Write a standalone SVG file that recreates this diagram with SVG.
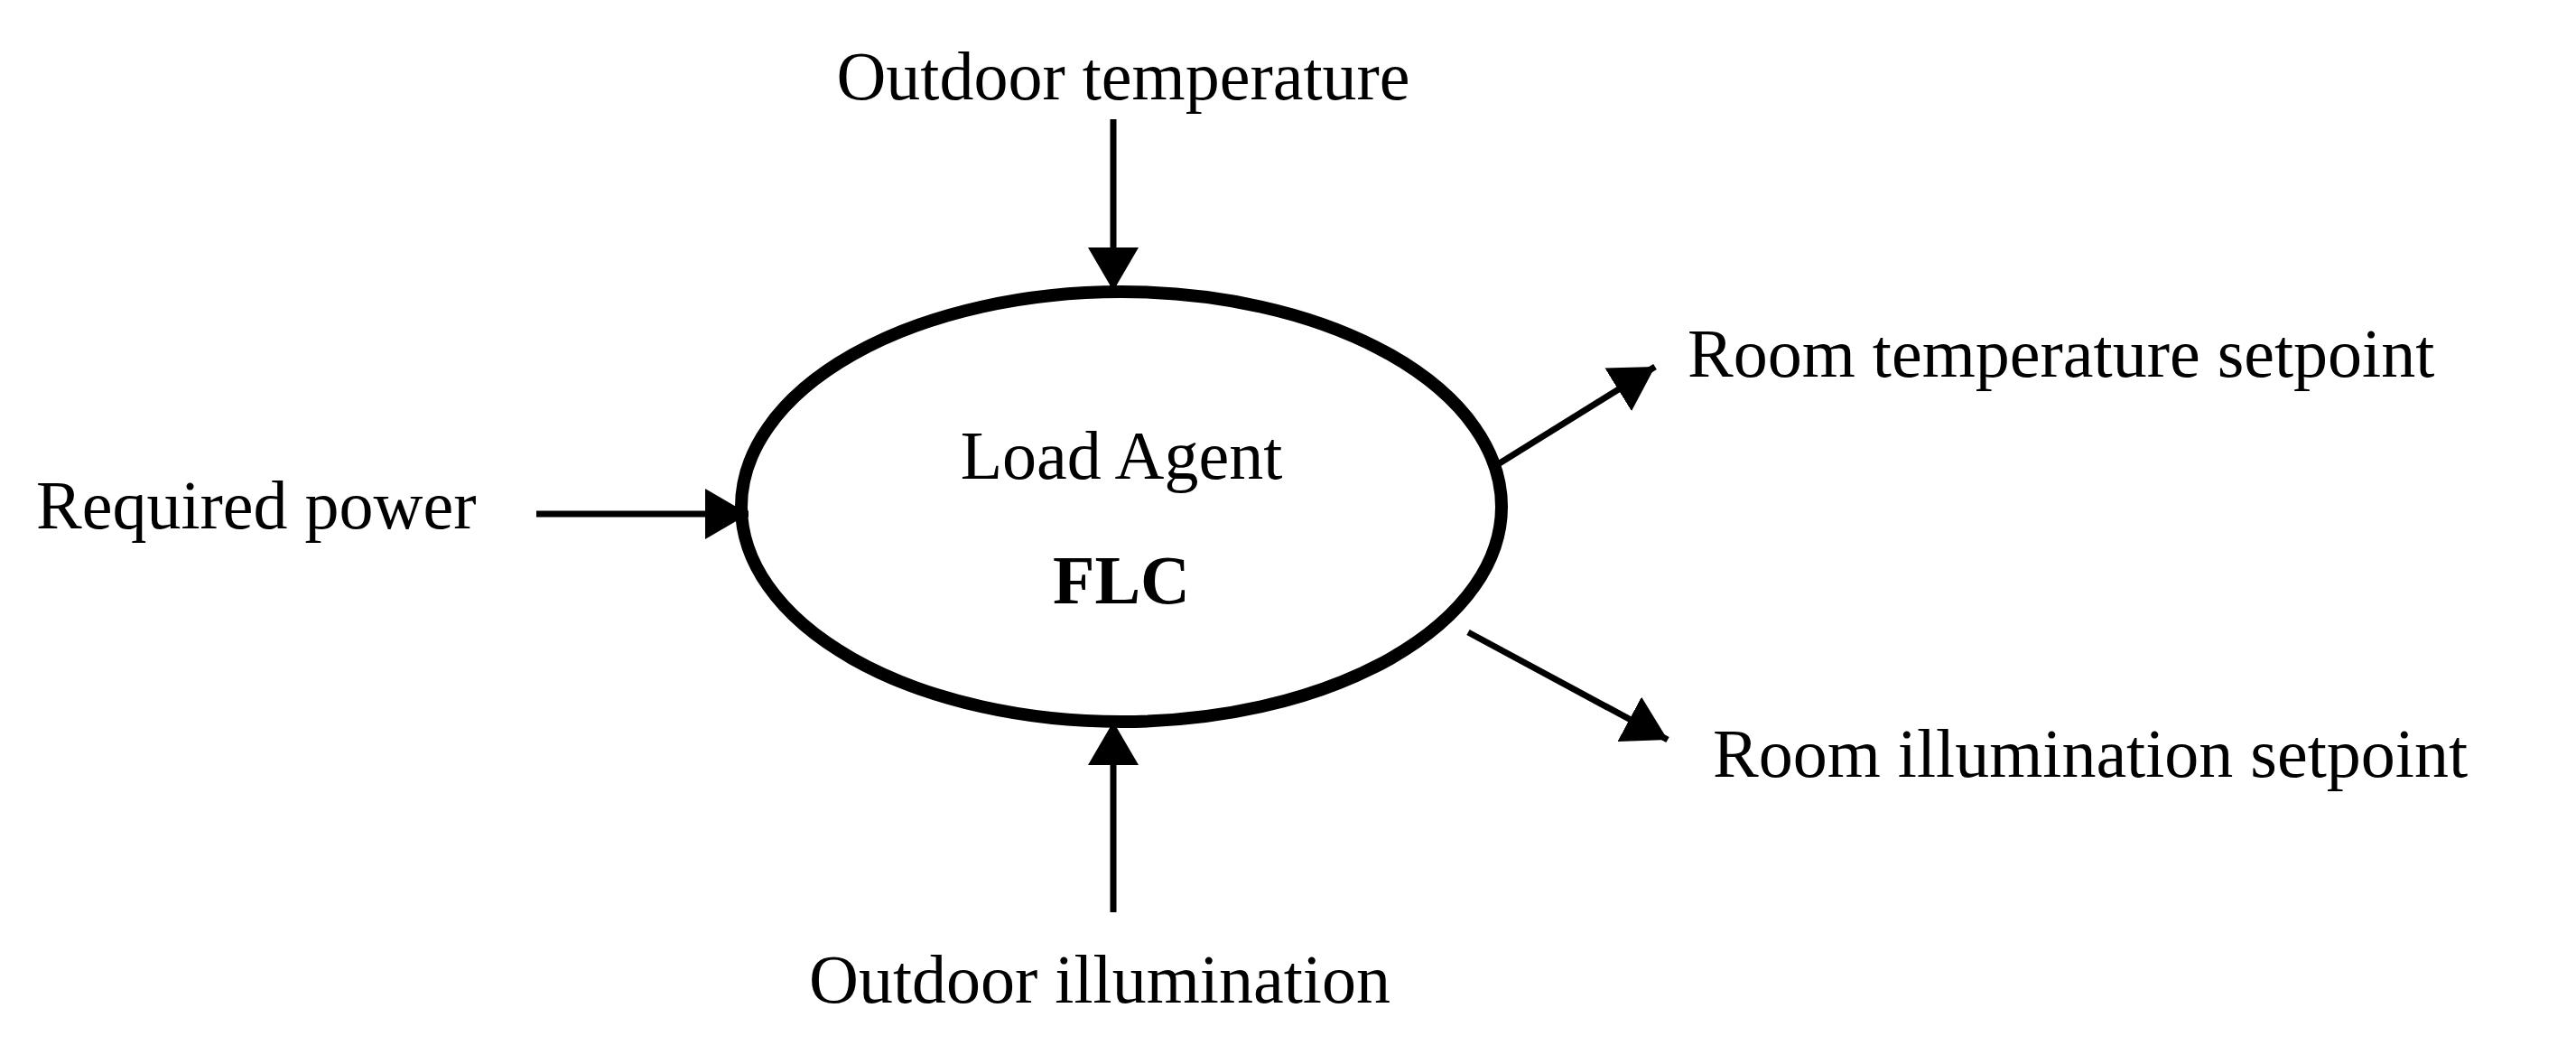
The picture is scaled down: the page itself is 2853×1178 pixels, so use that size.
<svg xmlns="http://www.w3.org/2000/svg" width="2853" height="1178" viewBox="0 0 2853 1178">
<style>
text{font-family:"Liberation Serif","Times New Roman",serif;font-size:76px;fill:#000}
.c{stroke:#000;stroke-width:7;fill:none}
</style>
<defs><marker id="a" markerUnits="userSpaceOnUse" markerWidth="50" markerHeight="56" refX="48" refY="28" orient="auto"><path d="M0,0 L48,28 L0,56 Z" fill="#000"/></marker></defs>
<rect width="2853" height="1178" fill="#fff"/>
<g id="agent">
<ellipse cx="1242" cy="561" rx="421" ry="238" fill="none" stroke="#000" stroke-width="14"/>
<text x="1242" y="530" text-anchor="middle">Load Agent</text>
<text x="1242" y="668" text-anchor="middle" font-weight="bold">FLC</text>
</g>
<g id="labels">
<text x="1244" y="110" text-anchor="middle">Outdoor temperature</text>
<text x="40" y="585">Required power</text>
<text x="1869" y="417">Room temperature setpoint</text>
<text x="1897" y="860">Room illumination setpoint</text>
<text x="1218" y="1110" text-anchor="middle">Outdoor illumination</text>
</g>
<g id="connectors">
<line class="c" x1="1233" y1="132" x2="1233" y2="322" marker-end="url(#a)"/>
<line class="c" x1="1233" y1="1010" x2="1233" y2="799" marker-end="url(#a)"/>
<line class="c" x1="594" y1="569" x2="829" y2="569" marker-end="url(#a)"/>
<line class="c" x1="1659" y1="514" x2="1833" y2="406" marker-end="url(#a)"/>
<line class="c" x1="1626" y1="700" x2="1847" y2="819" marker-end="url(#a)"/>
</g>
</svg>
